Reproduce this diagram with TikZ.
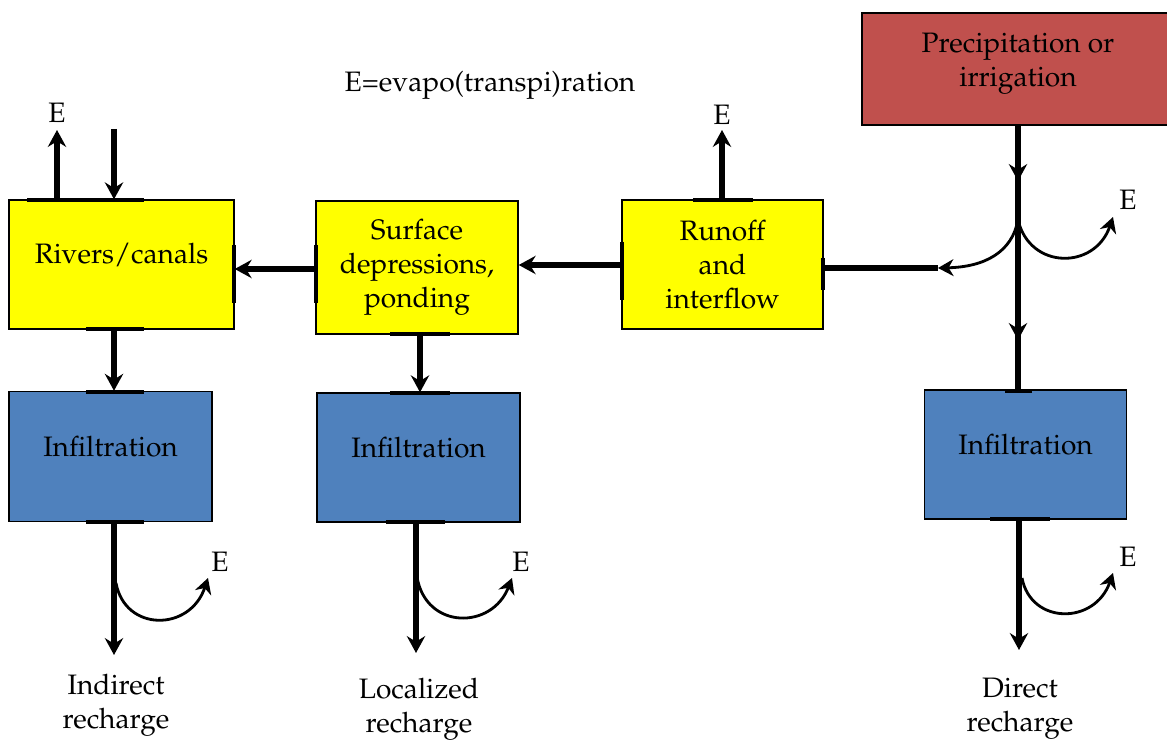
\documentclass[tikz,border=0pt]{standalone}
\usepackage[T1]{fontenc}
\usepackage{mathpazo}
\usetikzlibrary{arrows.meta}
\definecolor{boxyellow}{HTML}{FFFF00}
\definecolor{boxblue}{HTML}{4F81BD}
\definecolor{boxred}{HTML}{C0504D}
\begin{document}
\begin{tikzpicture}
	[x=0.025cm,y=-0.025cm,
	every node/.style={font=\fontsize{20}{24}\selectfont},
	box/.style={draw=black,line width=1pt,align=center,inner sep=2pt},
	flow/.style={line width=4.2pt,-{Stealth[length=12pt,width=13pt,inset=4pt]}},
	bar/.style={line width=4.2pt},
	evap/.style={line width=2pt,-{Stealth[length=11pt,width=12pt,inset=3.5pt]}},
	tick/.style={line width=3pt},
	lbl/.style={inner sep=0pt,align=center}]
	\useasboundingbox (0,0) rectangle (1167,740);
	\node[box,fill=boxred,minimum width=7.8cm,minimum height=2.8cm,text depth=0.45cm] (precip) at (1018,69) {Precipitation or\\irrigation};
	\node[box,fill=boxyellow,minimum width=5.625cm,minimum height=3.225cm,text depth=0.55cm] (rivers) at (121.5,264.5) {Rivers/canals};
	\node[box,fill=boxyellow,minimum width=5.05cm,minimum height=3.325cm] (surface) at (417,267.5) {Surface\\depressions,\\ponding};
	\node[box,fill=boxyellow,minimum width=5.025cm,minimum height=3.225cm] (runoff) at (722.5,264.5) {Runoff\\and\\interflow};
	\node[box,fill=boxblue,minimum width=5.075cm,minimum height=3.25cm,text depth=0.5cm] (infL) at (110.5,456.5) {Infiltration};
	\node[box,fill=boxblue,minimum width=5.075cm,minimum height=3.225cm,text depth=0.5cm] (infM) at (418.5,457.5) {Infiltration};
	\node[box,fill=boxblue,minimum width=5.05cm,minimum height=3.225cm,text depth=0.5cm] (infR) at (1025.5,454.5) {Infiltration};
	\node[lbl] (note) at (490,85) {E=evapo(transpi)ration};
	\node[lbl] (eRiv) at (57,113) {E};
	\node[lbl] (eRun) at (722,115) {E};
	\node[lbl] (ePre) at (1128,200) {E};
	\node[lbl] (eInL) at (220,562) {E};
	\node[lbl] (eInM) at (521,562) {E};
	\node[lbl] (eInR) at (1128,557) {E};
	\node[lbl] (recL) at (116,705) {Indirect\\recharge};
	\node[lbl] (recM) at (419,709) {Localized\\recharge};
	\node[lbl] (recR) at (1020,709) {Direct\\recharge};
	\coordinate (xL) at (114,0);
	\coordinate (xS) at (420,0);
	\coordinate (xM) at (416,0);
	\coordinate (xR) at (1019,0);
	\coordinate (inRiv) at (114,129);
	\coordinate (eRivTip) at (57,130);
	\coordinate (eRunTip) at (722,130);
	\coordinate (spl) at (1018,220);
	\coordinate (mid1) at (1018,181);
	\coordinate (mid2) at (1018,340);
	\coordinate (sideEnd) at (938,268);
	\coordinate (ePreTip) at (1113,217);
	\coordinate (tipL) at (114,655);
	\coordinate (tipM) at (416,653);
	\coordinate (tipR) at (1019,650);
	\coordinate (splL) at (116,583);
	\coordinate (splM) at (417,577);
	\coordinate (splR) at (1022,578);
	\coordinate (eInLTip) at (208,578);
	\coordinate (eInMTip) at (512,578);
	\coordinate (eInRTip) at (1113,573);
	\draw[tick] (27,200) -- (144,200) (86,329) -- (144,329) (234,245) -- (234,303);
	\draw[tick] (86,392) -- (144,392) (86,522) -- (144,522);
	\draw[tick] (316,245) -- (316,303) (390,334) -- (450,334);
	\draw[tick] (390,393) -- (450,393) (386,522) -- (445,522);
	\draw[tick] (693,200) -- (753,200) (622,242) -- (622,300) (823,258) -- (823,290);
	\draw[tick] (1005,391) -- (1032,391) (990,519) -- (1050,519);
	\draw[flow] (eRiv |- rivers.north) -- (eRivTip);
	\draw[flow] (inRiv) -- (inRiv |- rivers.north);
	\draw[flow] (eRunTip |- runoff.north) -- (eRunTip);
	\draw[flow] (surface.west |- 0,269) -- (rivers.east |- 0,269);
	\draw[flow] (runoff.west |- 0,265) -- (surface.east |- 0,265);
	\draw[flow] (rivers.south -| xL) -- (infL.north -| xL);
	\draw[flow] (surface.south -| xS) -- (infM.north -| xS);
	\draw[bar] (precip.south -| spl) -- (infR.north -| spl);
	\draw[flow] (precip.south -| spl) -- (mid1);
	\draw[flow] (mid1) -- (mid2);
	\draw[bar] (runoff.east |- sideEnd) -- (sideEnd);
	\draw[evap] (spl) .. controls (1012,252) and (985,267) .. (sideEnd);
	\draw[evap] (spl) .. controls (1030,270) and (1095,270) .. (ePreTip);
	\draw[flow] (infL.south -| xL) -- (tipL);
	\draw[flow] (infM.south -| xM) -- (tipM);
	\draw[flow] (infR.south -| xR) -- (tipR);
	\draw[evap] (splL) .. controls (125,632) and (190,632) .. (eInLTip);
	\draw[evap] (splM) .. controls (426,630) and (492,630) .. (eInMTip);
	\draw[evap] (splR) .. controls (1031,625) and (1095,625) .. (eInRTip);
\end{tikzpicture}
\end{document}
